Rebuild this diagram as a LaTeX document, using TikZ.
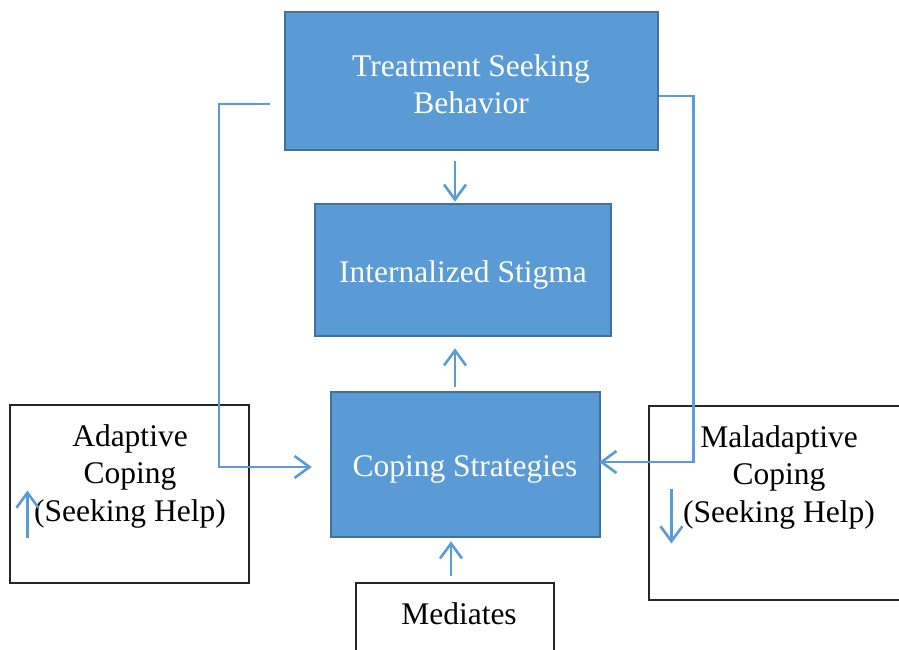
\documentclass[tikz,border=0pt]{standalone}
\usepackage{fontspec}
\setmainfont{Liberation Serif}
\usetikzlibrary{arrows.meta,calc}
\definecolor{boxblue}{HTML}{5B9BD5}
\definecolor{edgeblue}{HTML}{41719C}
\tikzset{
  bluebox/.style={draw=edgeblue, line width=2.6pt, fill=boxblue, inner sep=0pt},
  bluetext/.style={text=white, align=center, font=\fontsize{31.5}{37}\selectfont},
  plainbox/.style={draw=black!85, line width=1.1pt, fill=white, inner sep=0pt},
  plaintext/.style={align=center, font=\fontsize{31.5}{37.5}\selectfont},
  link/.style={draw=boxblue, line width=2.6pt, -{Straight Barb[length=15pt,width=22pt]}},
}
\begin{document}
\begin{tikzpicture}[x=1pt,y=-1pt]
		\useasboundingbox (0,0) rectangle (899,650);
		% boxes
		\node[bluebox, minimum width=373pt, minimum height=138pt] (tsb) at (471.5,81) {};
		\node[bluebox, minimum width=296pt, minimum height=132pt] (is) at (463,270) {};
		\node[bluebox, minimum width=269pt, minimum height=145pt] (cs) at (465.5,464.5) {};
		\node[plainbox, minimum width=239pt, minimum height=178pt] (adapt) at (129.5,494) {};
		\node[plainbox, minimum width=261pt, minimum height=194pt] (malad) at (779.5,503) {};
		\node[plainbox, minimum width=198pt, minimum height=87pt] (med) at (455,626.5) {};
		% texts
		\node[bluetext] (tsbtext) at (471,84) {Treatment Seeking\\Behavior};
		\node[bluetext] (istext) at (463,275) {Internalized Stigma};
		\node[bluetext] (cstext) at (465,469) {Coping Strategies};
		\node[plaintext] (adtext) at (130,476) {Adaptive\\Coping\\(Seeking Help)};
		\node[plaintext] (maltext) at (779,477) {Maladaptive\\Coping\\(Seeking Help)};
		\node[plaintext] (medtext) at (459,614) {Mediates};
		% connectors
		\coordinate (tsbleft) at (270,104);
		\draw[link] ($(tsb.south)+(-16.5,10)$) -- ($(is.north)+(-8,-1)$);
		\draw[link] ($(cs.north)+(-10.5,-4)$) -- ($(is.south)+(-8,11)$);
		\draw[link] ($(med.north)+(-4,-6)$) -- ($(cs.south)+(-14.5,3)$);
		\draw[link] (tsbleft) -- ++(-51,0) |- ($(cs.west)+(-18,2.5)$);
		\draw[link] ($(tsb.east)+(0,15)$) -- ++(34,0) |- ($(cs.east)+(-2,-2.5)$);
		\draw[link] ($(adapt.south west)+(18,-46)$) -- ++(0,-47);
		\draw[link] ($(malad.north west)+(23,84)$) -- ++(0,54);
	\end{tikzpicture}
\end{document}
